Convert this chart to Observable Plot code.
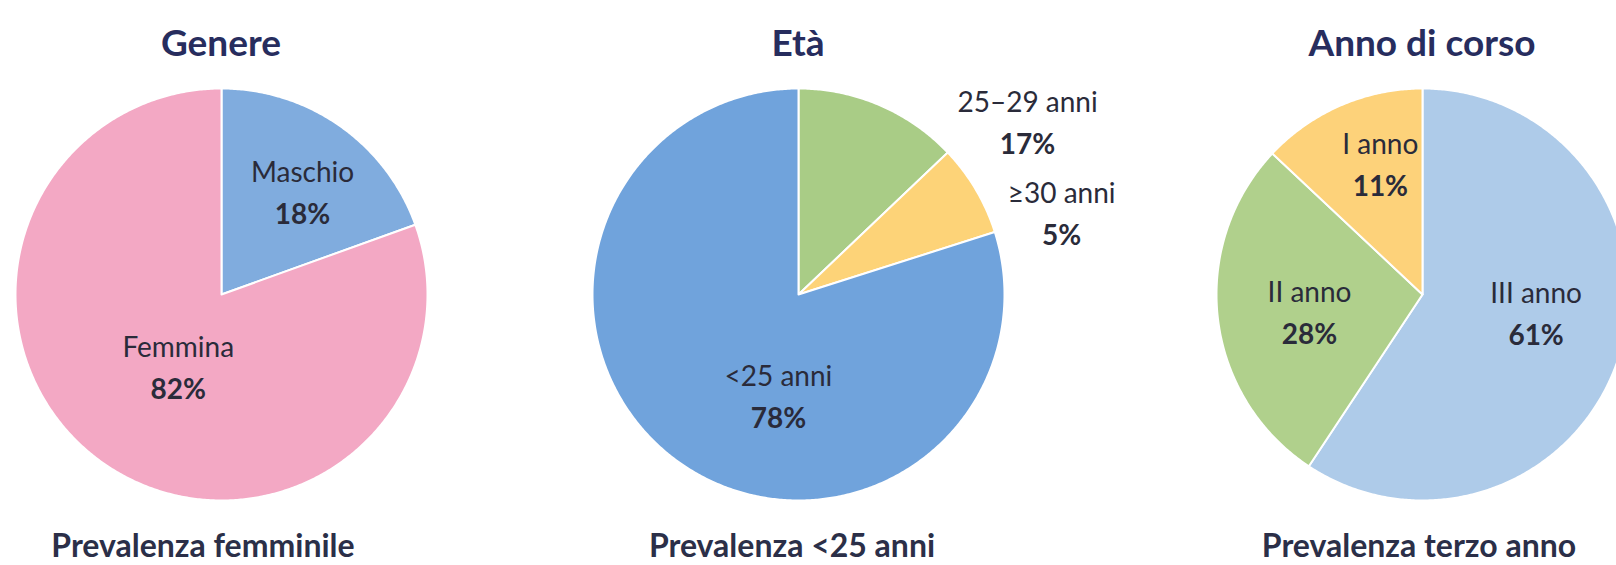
<!DOCTYPE html>
<html><head><meta charset="utf-8">
<script src="https://cdn.jsdelivr.net/npm/d3@7"></script>
<script src="https://cdn.jsdelivr.net/npm/@observablehq/plot@0.6"></script>
<style>
html,body{margin:0;padding:0;background:#fff;overflow:hidden;}
#page{position:relative;width:1616px;height:565px;overflow:hidden;font-family:Lato,sans-serif;}
.title{position:absolute;top:23px;width:440px;text-align:center;font-weight:700;font-size:37px;line-height:37px;color:#272d5e;}
.caption{position:absolute;top:529px;width:440px;text-align:center;font-weight:700;font-size:32px;line-height:32px;color:#2b2f48;}
.pie{position:absolute;top:0;width:600px;height:565px;}
</style></head><body><div id="page"></div>
<script>
// ---- data (slice shares read from the drawn wedges; labels as printed) ----
const genereCategories = ["Maschio", "Femmina"];
const genereShares = [19.5, 80.5];
const genereLabels = ["18%", "82%"];
const genereColors = ["#80acde", "#f3a8c4"];

const etaCategories = ["25–29 anni", "≥30 anni", "<25 anni"];
const etaShares = [12.9, 7.2, 79.9];
const etaLabels = ["17%", "5%", "78%"];
const etaColors = ["#a9cc86", "#fdd378", "#70a3dc"];

const annoCategories = ["III anno", "II anno", "I anno"];
const annoShares = [59.3, 27.7, 13.0];
const annoLabels = ["61%", "28%", "11%"];
const annoColors = ["#aecbe9", "#b0d08c", "#fdd27a"];

const titles = ["Genere", "Età", "Anno di corso"];
const captions = ["Prevalenza femminile", "Prevalenza <25 anni", "Prevalenza terzo anno"];

// ---- layout (label anchors in polar form: degrees clockwise from top, fraction of radius) ----
const layout = [
  {cx: 221, captionX: 203, labels: [[39, 0.625], [210, 0.42]]},
  {cx: 798, captionX: 792, labels: [[53.4, 1.385], [73.1, 1.335], [191, 0.51]]},
  {cx: 1422, captionX: 1419, labels: [[100, 0.56], [260, 0.557], [341.8, 0.655]]}
];
const R = 206, W = 600, CY = 294, H = 565;

function pie(cats, shares, pcts, colors, lay) {
  const total = d3.sum(shares);
  const poly = [];
  let cum = 0;
  cats.forEach((c, i) => {
    const a0 = cum / total * 2 * Math.PI;
    cum += shares[i];
    const a1 = cum / total * 2 * Math.PI;
    const n = Math.max(2, Math.ceil((a1 - a0) / (Math.PI / 360)));
    poly.push({cat: c, x: 0, y: 0});
    for (let k = 0; k <= n; k++) {
      const a = a0 + (a1 - a0) * k / n;
      poly.push({cat: c, x: Math.sin(a), y: Math.cos(a)});
    }
    poly.push({cat: c, x: 0, y: 0});
  });
  const labs = cats.map((c, i) => {
    const [deg, r] = lay.labels[i];
    const a = deg * Math.PI / 180;
    return {name: c, pct: pcts[i], x: r * Math.sin(a), y: r * Math.cos(a)};
  });
  return Plot.plot({
    width: W, height: H,
    marginLeft: W / 2 - R, marginRight: W / 2 - R, marginTop: CY - R, marginBottom: H - CY - R,
    x: {domain: [-1, 1], axis: null},
    y: {domain: [-1, 1], axis: null},
    color: {domain: cats, range: colors},
    style: {background: "transparent", overflow: "visible", fontFamily: "Lato"},
    marks: [
      Plot.line(poly, {x: "x", y: "y", z: "cat", fill: "cat", stroke: "white", strokeWidth: 2, strokeLinejoin: "round", curve: "linear"}),
      Plot.text(labs, {x: "x", y: "y", text: "name", dy: -21, fontSize: 28, fill: "#2a2b3a"}),
      Plot.text(labs, {x: "x", y: "y", text: "pct", dy: 21, fontSize: 28, fontWeight: "bold", fill: "#2a2b3a"})
    ]
  });
}

const page = document.getElementById("page");
const sets = [
  [genereCategories, genereShares, genereLabels, genereColors],
  [etaCategories, etaShares, etaLabels, etaColors],
  [annoCategories, annoShares, annoLabels, annoColors]
];
sets.forEach((s, i) => {
  const lay = layout[i];
  const d = document.createElement("div");
  d.className = "pie";
  d.style.left = (lay.cx - W / 2) + "px";
  d.appendChild(pie(s[0], s[1], s[2], s[3], lay));
  page.appendChild(d);
  const t = document.createElement("div");
  t.className = "title";
  t.style.left = (lay.cx - 220) + "px";
  t.textContent = titles[i];
  page.appendChild(t);
  const c = document.createElement("div");
  c.className = "caption";
  c.style.left = (lay.captionX - 220) + "px";
  c.textContent = captions[i];
  page.appendChild(c);
});
</script></body></html>
